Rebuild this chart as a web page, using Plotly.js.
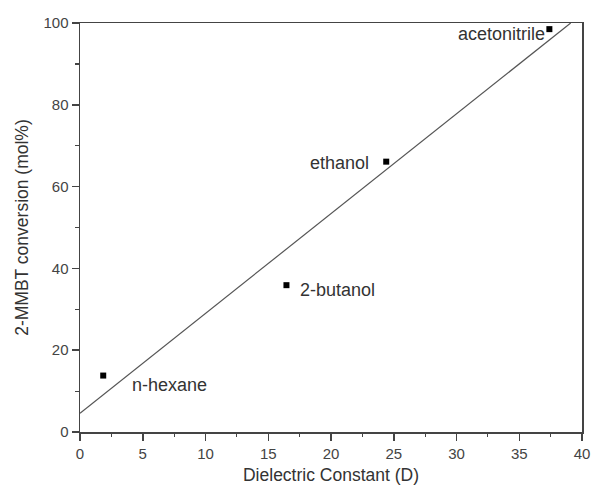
<!DOCTYPE html>
<html>
<head>
<meta charset="utf-8">
<script src="https://cdn.plot.ly/plotly-3.0.1.min.js"></script>
<style>html,body{margin:0;padding:0;background:#fff;}#chart{width:591px;height:488px;}</style>
</head>
<body>
<div id="chart"></div>
<script>
// Data
const solvents = ["n-hexane", "2-butanol", "ethanol", "acetonitrile"];
const dielectric = [1.85, 16.45, 24.4, 37.4];
const conversion = [13.8, 35.9, 66.1, 98.5];
const fitX = [0, 39.1];
const fitY = [4.6, 100];
const xTickStep = 5;
const yTickStep = 20;

// label placement (style, not data)
const labelPos = {
  "n-hexane":     {dx: 2.1,   dy: -2.4, anchor: "left"},
  "2-butanol":    {dx: 0.9,   dy: -1.3, anchor: "left"},
  "ethanol":      {dx: -1.2,  dy: -0.4, anchor: "right"},
  "acetonitrile": {dx: -0.15, dy: -1.2, anchor: "right"}
};

const font = "Liberation Sans, Arial, sans-serif";
const axisColor = "#444";

const traces = [
  {
    x: fitX, y: fitY, mode: "lines", type: "scatter",
    line: {color: "#555", width: 1.2}, hoverinfo: "skip", showlegend: false
  },
  {
    x: dielectric, y: conversion, mode: "markers", type: "scatter",
    marker: {symbol: "square", size: 6, color: "#000"}, showlegend: false, cliponaxis: false
  }
];

const annotations = solvents.map((s, i) => ({
  x: dielectric[i] + labelPos[s].dx,
  y: conversion[i] + labelPos[s].dy,
  text: s, showarrow: false, xanchor: labelPos[s].anchor, yanchor: "middle",
  font: {family: font, size: 18, color: "#333"}
}));

const axisCommon = {
  showgrid: false, zeroline: false, showline: true, mirror: true,
  linecolor: axisColor, linewidth: 1.5,
  ticks: "outside", ticklen: 7, tickwidth: 1.5, tickcolor: axisColor,
  tickfont: {family: font, size: 15, color: "#444"}
};

const layout = {
  width: 591, height: 488,
  margin: {l: 80, r: 9, t: 23, b: 56},
  paper_bgcolor: "#fff", plot_bgcolor: "#fff",
  xaxis: Object.assign({}, axisCommon, {
    range: [0, 40], tickmode: "linear", tick0: 0, dtick: xTickStep,
    minor: {ticks: "outside", ticklen: 3.5, tickwidth: 1.2, tickcolor: axisColor, tickmode: "linear", tick0: 0, dtick: xTickStep / 2},
    title: {text: "Dielectric Constant (D)", font: {family: font, size: 17.5, color: "#333"}, standoff: 8}
  }),
  yaxis: Object.assign({}, axisCommon, {
    range: [0, 100], tickmode: "linear", tick0: 0, dtick: yTickStep,
    minor: {ticks: "outside", ticklen: 3.5, tickwidth: 1.2, tickcolor: axisColor, tickmode: "linear", tick0: 0, dtick: yTickStep / 2},
    title: {text: "2-MMBT conversion (mol%)", font: {family: font, size: 17.5, color: "#333"}, standoff: 10}
  }),
  annotations: annotations,
  font: {family: font}
};

Plotly.newPlot("chart", traces, layout, {displayModeBar: false, staticPlot: true});
</script>
</body>
</html>
